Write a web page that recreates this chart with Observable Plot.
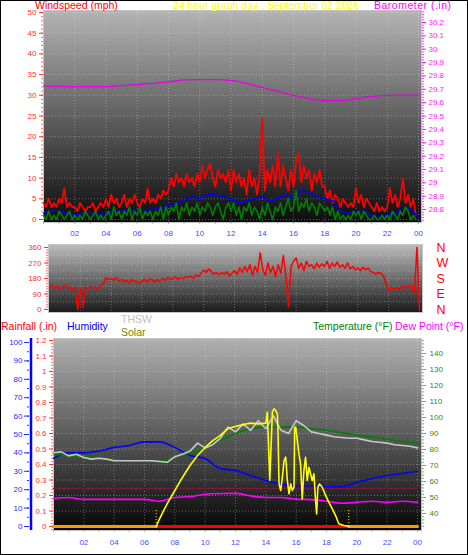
<!DOCTYPE html>
<html><head><meta charset="utf-8">
<script src="https://cdn.jsdelivr.net/npm/d3@7"></script>
<script src="https://cdn.jsdelivr.net/npm/@observablehq/plot@0.6"></script>
<style>
body{margin:0;background:#fff;}
#chart{position:relative;width:468px;height:555px;overflow:hidden;background:#fff;font-family:"Liberation Sans",Arial,sans-serif;}
.lbl{position:absolute;font-size:10.5px;line-height:1;white-space:nowrap;}
#border{position:absolute;left:0;top:0;width:468px;height:555px;box-sizing:border-box;border:1px solid #000;pointer-events:none;}
</style></head><body>
<div id="chart"></div>
<script>
// ================= DATA =================
const titleText = "24 hour graph day : September 02 2026";
const hourTickValues = [2,4,6,8,10,12,14,16,18,20,22,24];
const hourTickLabels = ["02","04","06","08","10","12","14","16","18","20","22","00"];

// Windspeed (mph), 10-minute samples from 00:00
const windHigh = [
 4,3,5,3,4,3, 5,4,7.5,3,4,3, 3,2,4,3,2,3, 3,4,2,3,4,3, 5,3,6,4,5,3, 4,6,3,5,4,6,
 4,3,5,4,7.5,4, 5,4,6,5,7,6, 7,10,8,11,9,10, 8,11,9,10,8,11, 9,13,10,12,13.5,10, 8,12,10,11,9,12,
 7,12,9,11,8,10, 6,12,8,10,6,11, 24.5,7,12,9,13,8, 16,8,13,10,7,12, 8,14,16,9,13,10, 12,7,11,9,12,8,
 8,5,7,4,6,5, 3,5,4,3,4,3, 7.5,4,6,3,5,4, 3,2,4,2,3,2, 3,7.5,4,6,3,5, 10,4,6,3,5,1
];
const windLow = [
 1,0,2,0,1,0, 2,1,0,1,2,0, 1,0,1,0,2,1, 0,1,2,0,1,0, 1,2,0,3,1,2, 0,2,1,3,0,2,
 1,3,0,2,1,2, 0,2,1,3,0,3, 1,3,2,4,0,3, 2,4,1,3,2,4, 1,3,2,4,3,1, 3,4,2,0,3,4,
 2,4,1,3,0,3, 2,4,1,3,2,0, 3,1,4,2,0,3, 2,4,1,3,5,2, 3,7,2,4,3,5, 2,4,3,1,4,3,
 2,3,1,3,0,2, 0,1,0,1,0,2, 1,2,0,2,1,0, 0,1,0,0,1,0, 1,0,2,1,0,2, 1,3,2,0,1,0
];
// 30-minute samples
const windAvg = [1.5,2,2,1.5,1,1.5,1.5,1,1.5,2,2,2.5,2,2,2.5,2.5,3.5,4,4.5,5.5,5,6,6,5.5,5,4,4.5,5,5.5,4.5,5,6,5,7,6.5,5.5,5,4.5,2,1.5,2,2,1,0.5,1,1.5,2.5,2.5,0.5];
// Barometer (in), hourly
const barometer = [29.725,29.722,29.72,29.72,29.72,29.728,29.735,29.745,29.756,29.77,29.773,29.773,29.766,29.744,29.714,29.684,29.654,29.631,29.616,29.616,29.631,29.646,29.654,29.657,29.657];
const windSpeedTicks = [0,5,10,15,20,25,30,35,40,45,50];
const baroTicks = [28.8,28.9,29,29.1,29.2,29.3,29.4,29.5,29.6,29.7,29.8,29.9,30,30.1,30.2];

// Wind direction (deg), 10-minute samples
const windDir = [
 130,140,125,135,120,130, 140,125,130,115,130,0, 125,10,130,120,135,125, 130,120,135,150,185,175,
 180,170,185,165,175,160, 170,155,175,165,160,150, 165,175,160,180,170,160, 175,165,180,170,185,175,
 180,190,175,185,180,190, 185,195,180,200,190,210, 230,215,235,220,205,215, 200,215,205,220,195,210,
 225,205,240,215,250,220, 260,200,250,215,330,230, 200,270,215,250,190,260, 210,315,190,15,250,280,
 300,240,270,225,280,250, 260,235,270,245,265,250, 280,240,270,250,275,245, 260,240,270,235,250,230,
 240,225,245,230,240,220, 215,205,215,210,195,150, 110,130,115,125,120,130, 135,125,140,130,95,360, 0
];
const dirTicks = [0,90,180,270,360];
const compassLabels = ["N","E","S","W","N"];

// Bottom panel, hourly
const humidity = [37,40,40,41,43,44,46,46,43,38.6,37,31.5,30.4,27.7,25,23,22,22,21.7,21.5,24,26,27.7,28.8,30];
const temperature = [77.5,76,75.6,75,73.7,73,72.7,72.5,75,78,81,85.6,90,93,94,94,94,93,92,90.5,89,88,86.6,85,84];
const dewPoint = [49.4,50,48.8,48.8,48.8,48.8,48.8,47.7,50,50.6,52,52.5,52.6,51,50,50,49,48.7,47.7,46.4,47,47.7,47,47.7,47];
// THSW, 30-minute samples
const thsw = [78,78.5,76,77,75,74,74.5,74,73,73,73,73,73,73,72.5,72,75.5,77,79,84,81,83,87,94,91,96,92,98,93,101,92,90,98,95,91,90,89,88,87.5,87,87,86,85,84.5,84,83,82.5,82,81];
const refLevelHours = [0,24];
const refLevelValues = [55.6,55.6];
// Rainfall (in)
const rainHours = [0,24];
const rainValues = [0,0];
// Solar radiation (W/m2)
const solarHours = [6.77,7,7.5,8,8.5,9,9.5,10,10.5,11,11.5,12,12.5,13,13.5,14,14.1,14.26,14.43,14.54,14.65,14.76,14.8,14.87,14.98,15.09,15.2,15.31,15.42,15.53,15.64,15.75,15.86,15.9,15.97,16.08,16.18,16.29,16.4,16.51,16.62,16.73,16.84,16.95,17.06,17.17,17.28,17.35,17.43,17.54,17.72,17.94,18.15,18.38,18.6,18.81,19.14,19.36,19.47];
const solarValues = [0,53,153,240,327,407,473,527,573,607,653,667,680,689,684,689,762,307,762,785,773,751,640,284,240,329,440,462,307,218,284,240,262,662,662,573,484,418,184,373,462,307,395,351,307,351,173,84,262,284,262,207,162,118,73,18,7,3,0];
// periods with no sun (solar = 0)
const nightHours = [0,6.77,19.47,24];
const nightPeriod = [0,0,1,1];
const sunEvents = [6.77,19.47];
const sunMarkerHeight = 107;
const rainTicks = [0,0.1,0.2,0.3,0.4,0.5,0.6,0.7,0.8,0.9,1,1.1,1.2];
const humTicks = [0,10,20,30,40,50,60,70,80,90,100];
const tempTicks = [40,50,60,70,80,90,100,110,120,130,140];

// ================= BUILD =================
const FONT = "'Liberation Sans', Arial, sans-serif";
const baseStyle = {background: "transparent", fontFamily: FONT, fontSize: "8px", overflow: "visible"};
const chart = document.getElementById("chart");
function put(svg, top) {
  svg.style.position = "absolute"; svg.style.left = "0px"; svg.style.top = top + "px";
  chart.appendChild(svg); return svg;
}
function gradient(svg, id, c0, c1) {
  const defs = d3.select(svg).insert("defs", ":first-child");
  const g = defs.append("linearGradient").attr("id", id).attr("x1", 0).attr("y1", 0).attr("x2", 0).attr("y2", 1);
  g.append("stop").attr("offset", 0).attr("stop-color", c0);
  g.append("stop").attr("offset", 1).attr("stop-color", c1);
}
const series = (vals, step) => vals.map((v, i) => ({h: i * step, v}));
const pairs = (hs, vs) => hs.map((h, i) => ({h, v: vs[i]}));
const hourLabel = d => hourTickLabels[hourTickValues.indexOf(d)];
const num1 = d => String(Math.round(d * 10) / 10);
const blank = () => "";
const gridStyle = {stroke: "#e8e8e8", strokeOpacity: 0.35, strokeDasharray: "1,2"};

// ---------- Panel 1: windspeed + barometer ----------
const p1 = {width: 468, height: 240, marginTop: 10, marginBottom: 18, marginLeft: 43, marginRight: 47, style: baseStyle};
const x1 = {domain: [0, 24], range: [43, 418], label: null};
const w1 = put(Plot.plot({
  ...p1, x: x1, y: {domain: [0, 50], range: [219, 12], label: null},
  marks: [
    Plot.frame({fill: "url(#bg1)", stroke: "#c4c4c4"}),
    Plot.gridY(windSpeedTicks, gridStyle),
    Plot.gridX(hourTickValues, gridStyle),
    Plot.axisY({ticks: d3.range(0, 51, 1), tickSize: 2, tickFormat: blank, stroke: "#ff7070", label: null}),
    Plot.axisY({ticks: windSpeedTicks, tickSize: 4, tickPadding: 3, color: "#ff3030", label: null}),
    Plot.axisX({ticks: d3.range(0, 25, 1), tickSize: 2, tickFormat: blank, stroke: "#b0b0b0", label: null}),
    Plot.axisX({ticks: hourTickValues, tickSize: 0, tickPadding: 8, tickFormat: hourLabel, fill: "#4848ff", label: null}),
    Plot.line(series(windHigh, 1/6), {x: "h", y: "v", stroke: "#ff0000", strokeWidth: 1.8}),
    Plot.line(series(windAvg, 0.5), {x: "h", y: "v", stroke: "#0000ff", strokeWidth: 1.6}),
    Plot.line(series(windLow, 1/6), {x: "h", y: "v", stroke: "#008000", strokeWidth: 1.6})
  ]
}), 0);
gradient(w1, "bg1", "#b4b4b4", "#0c0c0c");
put(Plot.plot({
  ...p1, x: {...x1, axis: null}, y: {domain: [28.8, 30.2], range: [209, 22], label: null},
  marks: [
    Plot.axisY({anchor: "right", ticks: d3.range(0, 79).map(i => 28.72 + i * 0.02), tickSize: 2, tickFormat: blank, stroke: "#ff40ff", label: null}),
    Plot.axisY({anchor: "right", ticks: baroTicks, tickSize: 4, tickPadding: 3, tickFormat: num1, color: "#ff20ff", label: null}),
    Plot.line(series(barometer, 1), {x: "h", y: "v", stroke: "#e600e6", strokeWidth: 1.3, curve: "monotone-x"})
  ]
}), 0);

// ---------- Panel 2: wind direction ----------
const p2 = {width: 468, height: 80, marginTop: 4, marginBottom: 8, marginLeft: 48, marginRight: 46, style: baseStyle};
const w2 = put(Plot.plot({
  ...p2, x: {domain: [0, 24], range: [49, 419], axis: null, label: null}, y: {domain: [0, 360], range: [69, 7], label: null},
  marks: [
    Plot.frame({fill: "url(#bg2)", stroke: "#c4c4c4"}),
    Plot.gridY([45, 90, 135, 180, 225, 270, 315], gridStyle),
    Plot.gridX(hourTickValues, gridStyle),
    Plot.axisY({ticks: d3.range(0, 361, 15), tickSize: 2, tickFormat: blank, stroke: "#ff7070", label: null}),
    Plot.axisY({ticks: dirTicks, tickSize: 4, tickPadding: 3, color: "#ff3030", label: null}),
    Plot.axisY({anchor: "right", ticks: dirTicks, tickSize: 0, tickPadding: 14, tickFormat: d => compassLabels[dirTicks.indexOf(d)], fill: "#ff0000", fontSize: 12.5, label: null}),
    Plot.line(series(windDir, 1/6), {x: "h", y: "v", stroke: "#ff0000", strokeWidth: 1.5})
  ]
}), 240);
gradient(w2, "bg2", "#bcbcbc", "#1a1a1a");

// ---------- Panel 3: rain, humidity, temperature, solar ----------
const p3 = {width: 468, height: 225, marginTop: 8, marginBottom: 25, marginLeft: 53, marginRight: 47, style: baseStyle};
const x3 = {domain: [0, 24], range: [53, 417], label: null};
const r3 = put(Plot.plot({
  ...p3, x: x3, y: {domain: [0, 1.2], range: [196, 10], label: null},
  marks: [
    Plot.frame({fill: "url(#bg3)", stroke: "#c4c4c4"}),
    Plot.gridY(rainTicks.slice(1), gridStyle),
    Plot.gridX(hourTickValues, gridStyle),
    Plot.axisY({ticks: d3.range(0, 62).map(i => -0.02 + i * 0.02), tickSize: 2, tickFormat: blank, stroke: "#ff7070", label: null}),
    Plot.axisY({ticks: rainTicks, tickSize: 4, tickPadding: 3, tickFormat: num1, color: "#ff3030", label: null}),
    Plot.axisX({ticks: d3.range(0, 25, 1), tickSize: 2, tickFormat: blank, stroke: "#b0b0b0", label: null}),
    Plot.axisX({ticks: hourTickValues, tickSize: 0, tickPadding: 9, tickFormat: hourLabel, fill: "#4848ff", label: null}),
    Plot.line(pairs(rainHours, rainValues), {x: "h", y: "v", stroke: "#ff0000", strokeWidth: 3})
  ]
}), 330);
gradient(r3, "bg3", "#b0b0b0", "#060606");
// humidity axis (left, blue)
put(Plot.plot({
  ...p3, marginLeft: 29, x: {domain: [0, 1], range: [30.5, 40], axis: null}, y: {domain: [0, 100], range: [196, 12], label: null},
  marks: [
    Plot.ruleX([0], {stroke: "#0000ff", strokeWidth: 2.5}),
    Plot.axisY({ticks: d3.range(0, 101, 5), tickSize: 2, tickFormat: blank, stroke: "#3030ff", label: null}),
    Plot.axisY({ticks: humTicks, tickSize: 5, tickPadding: 2, color: "#2828ff", label: null})
  ]
}), 330);
// humidity line
put(Plot.plot({
  ...p3, x: {...x3, axis: null}, y: {domain: [0, 100], range: [196, 12], axis: null},
  marks: [Plot.line(series(humidity, 1), {x: "h", y: "v", stroke: "#0000ff", strokeWidth: 1.6, curve: "monotone-x"})]
}), 330);
// temperatures
put(Plot.plot({
  ...p3, x: {...x3, axis: null}, y: {domain: [40, 140], range: [183, 23], label: null},
  marks: [
    Plot.axisY({anchor: "right", ticks: d3.range(0, 59).map(i => 32 + i * 2), tickSize: 2, tickFormat: blank, stroke: "#70b070", label: null}),
    Plot.axisY({anchor: "right", ticks: tempTicks, tickSize: 4, tickPadding: 4, fill: "#2a8a2a", stroke: "#70b070", label: null}),
    Plot.line(pairs(refLevelHours, refLevelValues), {x: "h", y: "v", stroke: "#7a1a3a", strokeWidth: 1.5}),
    Plot.line(series(dewPoint, 1), {x: "h", y: "v", stroke: "#ff00ff", strokeWidth: 1.6, curve: "monotone-x"}),
    Plot.line(series(temperature, 1), {x: "h", y: "v", stroke: "#008000", strokeWidth: 1.6, curve: "monotone-x"}),
    Plot.line(series(thsw, 0.5), {x: "h", y: "v", stroke: "#c8c8c8", strokeWidth: 1.6})
  ]
}), 330);
// solar
put(Plot.plot({
  ...p3, x: {...x3, axis: null}, y: {domain: [0, 1000], range: [196, 46], axis: null},
  marks: [
    Plot.line(nightHours.map((h, i) => ({h, v: 0, z: nightPeriod[i]})), {x: "h", y: "v", z: "z", stroke: "#ff9900", strokeWidth: 3}),
    Plot.ruleX(sunEvents, {y1: 0, y2: sunMarkerHeight, stroke: "#ffff00", strokeDasharray: "1,2", strokeWidth: 1}),
    Plot.line(pairs(solarHours, solarValues), {x: "h", y: "v", stroke: "#ffff00", strokeWidth: 1.6})
  ]
}), 330);

// ---------- Text labels ----------
const labels = [
  ["Windspeed (mph)", 35, 0, "#ff0000"],
  [titleText, 173, 0, "#ffff00"],
  ["Barometer (.in)", 374, 0, "#ff00ff", "0.5px"],
  ["Rainfall (.in)", 1, 321, "#ff0000"],
  ["Humidity", 67, 321, "#0000ff"],
  ["THSW", 121, 314, "#c0c0c0"],
  ["Solar", 121, 327, "#808000"],
  ["Temperature (°F)", 313, 321, "#008000"],
  ["Dew Point (°F)", 395, 321, "#ff00ff"]
];
for (const [t, x, y, c, ls] of labels) {
  const d = document.createElement("div");
  d.className = "lbl"; d.textContent = t;
  d.style.left = x + "px"; d.style.top = y + "px"; d.style.color = c;
  if (ls) d.style.letterSpacing = ls;
  chart.appendChild(d);
}
const b = document.createElement("div"); b.id = "border"; chart.appendChild(b);
</script>
</body></html>
